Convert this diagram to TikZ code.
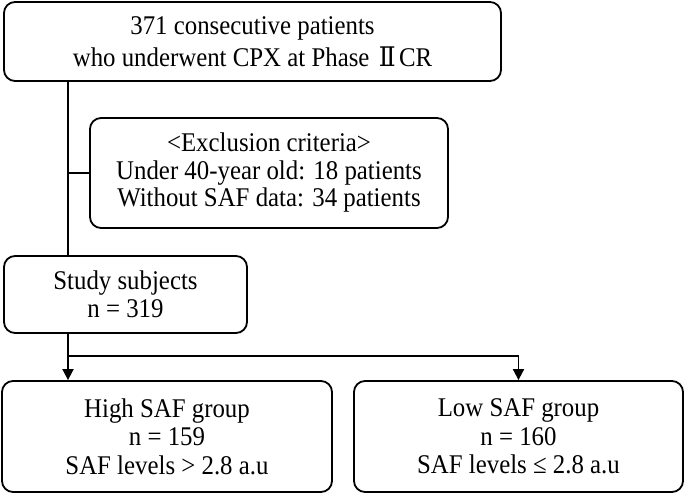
\documentclass[tikz,border=0pt]{standalone}
\usepackage{fontspec}
\setmainfont{Liberation Serif}[FakeStretch=0.92]
\newfontfamily\dvserif{DejaVu Serif}[FakeStretch=0.92]
\usetikzlibrary{arrows.meta}
\begin{document}
\begin{tikzpicture}[x=1pt,y=-1pt,
  box/.style={draw, line width=1.8pt, rounded corners=11pt, inner sep=0pt, align=center,
    font=\fontsize{27}{27.5}\selectfont},
  conn/.style={line width=1.8pt},
  arr/.style={line width=1.8pt, -{Triangle[length=11pt,width=11pt]}}]
\useasboundingbox (0,0) rectangle (685,494);
\node[box, minimum width=497pt, minimum height=79pt, font=\fontsize{27}{32}\selectfont] (top) at (252.5,41.5)
  {371 consecutive patients\\who underwent CPX at Phase\hspace{0.35em}{\dvserif Ⅱ}\hspace{0.12em}CR};
\node[box, minimum width=358pt, minimum height=110pt] (excl) at (269,173)
  {<Exclusion criteria>\\Under 40-year old: 18 patients\\Without SAF data: 34 patients};
\node[box, minimum width=243pt, minimum height=77pt] (study) at (125.5,294.5)
  {Study subjects\\n = 319};
\node[box, minimum width=330pt, minimum height=111pt, font=\fontsize{27}{28.5}\selectfont] (high) at (167,436.5)
  {High SAF group\\n = 159\\SAF levels > 2.8 a.u};
\node[box, minimum width=329pt, minimum height=111pt, font=\fontsize{27}{28.5}\selectfont] (low) at (518.5,436.5)
  {Low SAF group\\n = 160\\SAF levels ≤ 2.8 a.u};
\coordinate (split) at (68,356);
\draw[conn] (top.south -| split) -- (study.north -| split);
\draw[conn] (excl.west) -- (excl.west -| split);
\draw[arr] (study.south -| split) -- (high.north -| split);
\draw[arr] (split) -| (low.north);
\end{tikzpicture}
\end{document}
